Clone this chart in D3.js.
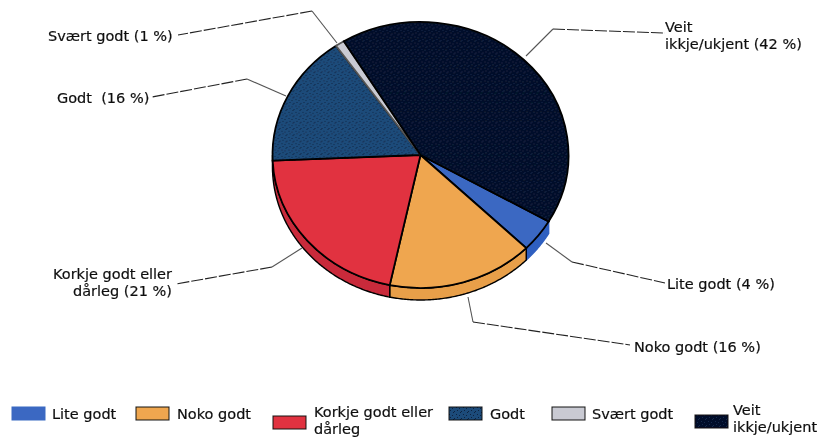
<!DOCTYPE html>
<html>
<head>
<meta charset="utf-8">
<script src="https://cdn.jsdelivr.net/npm/d3@7"></script>
<style>
    html, body { margin: 0; padding: 0; background: #fff; }
    svg { display: block; }
    text { font-family: "DejaVu Sans", sans-serif; font-size: 14.5px; fill: #111; stroke: #111; stroke-width: 0.2px; white-space: pre; }
</style>
</head>
<body>
<div id="chart"></div>
<script>
// values
const categories = ['Lite godt', 'Noko godt', 'Korkje godt eller dårleg', 'Godt', 'Svært godt', 'Veit ikkje/ukjent'];
const values = [4, 16, 21, 16, 1, 42];
const colors = ['#3a68c2', '#efa64f', '#e1303f', '#1f4b7a', '#c9cad3', '#06112a'];
const sideColors = ['#2f5fc0', '#e89f4a', '#c92c3a', '#1a3f68', '#b5b5bf', '#030814'];

// wrapped text for the labels around the pie and for the legend
const labelLines = [
    ['Lite godt (4 %)'],
    ['Noko godt (16 %)'],
    ['Korkje godt eller', 'dårleg (21 %)'],
    ['Godt  (16 %)'],
    ['Svært godt (1 %)'],
    ['Veit', 'ikkje/ukjent (42 %)']
];
const legendLines = [['Lite godt'], ['Noko godt'], ['Korkje godt eller', 'dårleg'], ['Godt'], ['Svært godt'], ['Veit', 'ikkje/ukjent']];

const width = 820, height = 439;
const cx = 420.5, cy = 155, rx = 148, ry = 133, depth = 12;

const svg = d3.select('#chart').append('svg')
    .attr('width', width)
    .attr('height', height);

// slight softening and speckle, the original is a scan
const defs = svg.append('defs');
defs.append('filter').attr('id', 'soft')
    .append('feGaussianBlur').attr('stdDeviation', 0.5);

function speckle(id, base, dot) {
    const p = defs.append('pattern').attr('id', id)
        .attr('width', 7).attr('height', 7)
        .attr('patternUnits', 'userSpaceOnUse');
    p.append('rect').attr('width', 7).attr('height', 7).attr('fill', base);
    [[1, 1], [4, 2], [2, 4], [6, 5], [5, 6]].forEach(d => {
        p.append('rect').attr('x', d[0]).attr('y', d[1])
            .attr('width', 1).attr('height', 1).attr('fill', dot);
    });
}
speckle('speckleGodt', colors[3], '#0d2240');
speckle('speckleVeit', colors[5], '#12294d');

const fills = colors.map((c, i) => i === 3 ? 'url(#speckleGodt)' : i === 5 ? 'url(#speckleVeit)' : c);

const root = svg.append('g').attr('filter', 'url(#soft)');

// the pie starts at the Veit/Lite border, about 120 degrees clockwise from north
const startAngle = 120 * Math.PI / 180;
const pie = d3.pie().sort(null).startAngle(startAngle).endAngle(startAngle + 2 * Math.PI);
const slices = pie(values);

// angle to point on the ellipse
function edge(a, dy = 0) {
    return [cx + rx * Math.sin(a), cy - ry * Math.cos(a) + dy];
}

// side wall, only the part that faces the viewer
const line = d3.line();
const sides = root.append('g');
slices.forEach((s, i) => {
    const a0 = Math.max(s.startAngle, Math.PI / 2);
    const a1 = Math.min(s.endAngle, 3 * Math.PI / 2);
    if (a1 <= a0) return;
    const angles = d3.range(a0, a1, 0.01).concat([a1]);
    const top = angles.map(a => edge(a));
    const bottom = angles.map(a => edge(a, depth)).reverse();
    sides.append('path')
        .attr('d', line(top.concat(bottom)) + 'Z')
        .attr('fill', sideColors[i])
        .attr('stroke', i === 0 ? sideColors[0] : '#000')
        .attr('stroke-width', 1.4);
});

// top face, arc is drawn as a circle and squashed to the ellipse
const arc = d3.arc().innerRadius(0).outerRadius(rx);
root.append('g')
    .attr('transform', `translate(${cx},${cy}) scale(1,${ry / rx})`)
    .selectAll('path')
    .data(slices)
    .join('path')
    .attr('d', arc)
    .attr('fill', (d, i) => fills[i])
    .attr('stroke', (d, i) => i === 4 ? '#555' : '#000')
    .attr('stroke-width', 1.8)
    .attr('vector-effect', 'non-scaling-stroke');

// leader lines: pie edge, elbow, label
const leaders = [
    { start: [546, 243], elbow: [572, 262], end: [665, 283] },
    { start: [468, 297], elbow: [473, 322], end: [630, 345] },
    { start: [302, 248], elbow: [272, 267], end: [176, 284] },
    { start: [286, 96], elbow: [247, 79], end: [152, 97] },
    { start: [337, 43], elbow: [312, 11], end: [178, 35] },
    { start: [526, 56], elbow: [553, 29], end: [665, 33] }
];
root.append('g').selectAll('path')
    .data(leaders)
    .join('path')
    .attr('d', d => line([d.start, d.elbow]))
    .attr('fill', 'none')
    .attr('stroke', '#555')
    .attr('stroke-width', 1.1);
root.append('g').selectAll('path')
    .data(leaders)
    .join('path')
    .attr('d', d => line([d.elbow, d.end]))
    .attr('fill', 'none')
    .attr('stroke', '#222')
    .attr('stroke-width', 1.1)
    .attr('stroke-dasharray', '12 2');

// labels around the pie
const labelPos = [
    { x: 667, y: 289, anchor: 'start' },
    { x: 634, y: 352, anchor: 'start' },
    { x: 172, y: 279, anchor: 'end' },
    { x: 57, y: 103, anchor: 'start' },
    { x: 48, y: 41, anchor: 'start' },
    { x: 665, y: 32, anchor: 'start' }
];
function addLines(g, lines, x, y, anchor) {
    const t = g.append('text').attr('text-anchor', anchor);
    lines.forEach((l, j) => {
        t.append('tspan').attr('x', x).attr('y', y + j * 17).text(l);
    });
}
const labels = root.append('g');
labelLines.forEach((lines, i) => {
    addLines(labels, lines, labelPos[i].x, labelPos[i].y, labelPos[i].anchor);
});

// legend
const legendPos = [
    { x: 12, y: 407, tx: 52, ty: 419 },
    { x: 136, y: 407, tx: 177, ty: 419 },
    { x: 273, y: 416, tx: 314, ty: 417 },
    { x: 449, y: 407, tx: 490, ty: 419 },
    { x: 552, y: 407, tx: 592, ty: 419 },
    { x: 695, y: 415, tx: 733, ty: 415 }
];
const legend = root.append('g');
categories.forEach((c, i) => {
    legend.append('rect')
        .attr('x', legendPos[i].x).attr('y', legendPos[i].y)
        .attr('width', 33).attr('height', 13)
        .attr('fill', fills[i])
        .attr('stroke', i === 0 ? colors[0] : '#111')
        .attr('stroke-width', 1);
    addLines(legend, legendLines[i], legendPos[i].tx, legendPos[i].ty, 'start');
});
</script>
</body>
</html>
